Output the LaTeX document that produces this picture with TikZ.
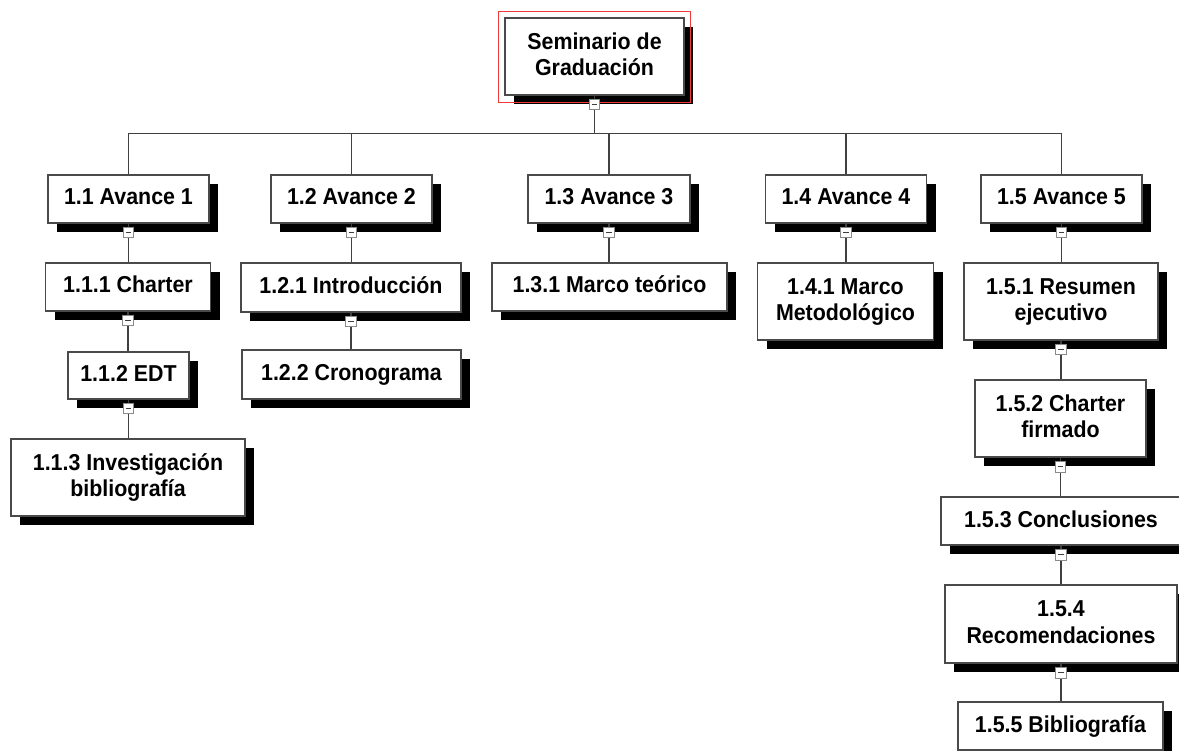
\documentclass[tikz,border=0pt]{standalone}
\usepackage{fontspec}
\setmainfont{Liberation Sans}[FakeStretch=0.93]
\usetikzlibrary{shadows,calc}

\definecolor{boxgray}{HTML}{4A4A4A}
\definecolor{linegray}{HTML}{404040}
\definecolor{markgray}{HTML}{8A8A8A}
\definecolor{selred}{HTML}{F03A3A}

\tikzset{
  wbs/.style={draw=boxgray, line width=1.4pt, fill=white, align=center,
    inner sep=0pt, font=\bfseries\fontsize{23}{26.5}\selectfont,
    text height=17pt, text depth=5pt,
    drop shadow={shadow xshift=9pt, shadow yshift=-9pt, fill=black, opacity=1}},
  % two lines of text: the first line plus one baseline skip
  twoline/.style={text height=43.5pt, text depth=5pt},
  bw/.style 2 args={minimum width=#1pt, minimum height=#2pt},
  link/.style={draw=linegray, line width=1.4pt},
  collapse/.style={draw=markgray, fill=white, minimum size=10.5pt, inner sep=0pt,
    line width=0.9pt,
    path picture={\draw[line width=1.2pt, black!75]
      ([xshift=2.4pt]path picture bounding box.west) --
      ([xshift=-2.4pt]path picture bounding box.east);}},
  selframe/.style={draw=selred, line width=1pt},
}

\begin{document}
\begin{tikzpicture}[x=1pt, y=-1pt]
  \useasboundingbox (0,0) rectangle (1179,751);
  \clip (0,0) rectangle (1179,751);

  % root
  \node[wbs, twoline, bw={179}{77}] (root) at (594.5,56.5) {Seminario de\\Graduación};
  \draw[selframe] ([shift={(-6,-6)}]root.north west) rectangle ([shift={(6,7)}]root.south east);

  % level 1
  \node[wbs, bw={161}{48}] (a1) at (128.5,199) {1.1 Avance 1};
  \node[wbs, bw={161}{48}] (a2) at (351.5,199) {1.2 Avance 2};
  \node[wbs, bw={162}{48}] (a3) at (609,199)   {1.3 Avance 3};
  \node[wbs, bw={161}{48}] (a4) at (846,199)   {1.4 Avance 4};
  \node[wbs, bw={161}{48}] (a5) at (1061.5,199) {1.5 Avance 5};

  % branch 1.1
  \node[wbs, bw={165}{48}] (c111) at (128,287)   {1.1.1 Charter};
  \node[wbs, bw={121}{47}] (c112) at (128.5,375.5) {1.1.2 EDT};
  \node[wbs, twoline, bw={234}{77}] (c113) at (128,477.5) {1.1.3 Investigación\\bibliografía};

  % branch 1.2
  \node[wbs, bw={220}{49}] (c121) at (351,287.5) {1.2.1 Introducción};
  \node[wbs, bw={219}{49}] (c122) at (351.5,374.5) {1.2.2 Cronograma};

  % branch 1.3
  \node[wbs, bw={235}{48}] (c131) at (609.5,287) {1.3.1 Marco teórico};

  % branch 1.4
  \node[wbs, twoline, bw={176}{77}] (c141) at (845.5,301.5) {1.4.1 Marco\\Metodológico};

  % branch 1.5
  \node[wbs, twoline, bw={194}{77}] (c151) at (1061,301.5) {1.5.1 Resumen\\ejecutivo};
  \node[wbs, twoline, bw={171}{77}] (c152) at (1060.5,418.5) {1.5.2 Charter\\firmado};
  \node[wbs, bw={240}{48}] (c153) at (1061,521) {1.5.3 Conclusiones};
  \node[wbs, twoline, bw={232}{78}] (c154) at (1061,624) {1.5.4\\Recomendaciones};
  \node[wbs, bw={205}{48}] (c155) at (1060.5,726) {1.5.5 Bibliografía};

  % connectors from the root to the first level
  \foreach \c in {a1,a2,a3,a4,a5}
    \draw[link] (root.south) -- ++(0,38) -| (\c.north);

  % vertical connectors inside each branch
  \foreach \p/\c in {a1/c111, c111/c112, c112/c113,
                     a2/c121, c121/c122,
                     a3/c131, a4/c141,
                     a5/c151, c151/c152, c152/c153, c153/c154, c154/c155}
    \draw[link] (\p.south) -- (\p.south |- \c.north);

  % collapse buttons under every parent box
  \foreach \p in {root,a1,a2,a3,a4,a5,c111,c112,c121,c151,c152,c153,c154}
    \node[collapse] (m-\p) at ([yshift=-9pt]\p.south) {};
\end{tikzpicture}
\end{document}
